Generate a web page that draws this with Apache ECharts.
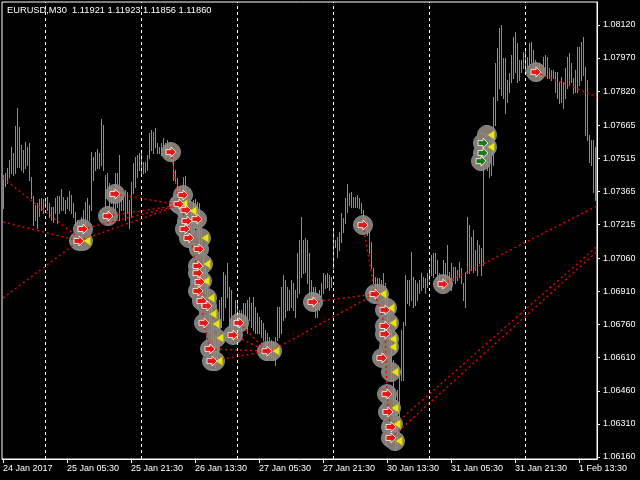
<!DOCTYPE html>
<html><head><meta charset="utf-8">
<script src="https://cdn.jsdelivr.net/npm/echarts@6/dist/echarts.min.js"></script>
<style>html,body{margin:0;padding:0;background:#000}#c{width:640px;height:480px}</style>
</head><body><div id="c"></div>
<script>
const headerText = 'EURUSD,M30  1.11921 1.11923 1.11856 1.11860';
const xTickIdx = [0,32,64,96,128,160,192,224,256,288];
const xTickLabels = ['24 Jan 2017','25 Jan 05:30','25 Jan 21:30','26 Jan 13:30','27 Jan 05:30','27 Jan 21:30','30 Jan 13:30','31 Jan 05:30','31 Jan 21:30','1 Feb 13:30'];
const yTicks = [1.06160,1.06310,1.06460,1.06610,1.06760,1.06910,1.07060,1.07215,1.07365,1.07515,1.07665,1.07820,1.07970,1.08120];
const separatorIdx = [21,69,117,165,213,261];

const highs = [
1.07439,1.07448,1.07471,1.07507,1.07566,1.07539,1.07661,1.07743,1.07657,1.07575,
1.07552,1.07589,1.07566,1.07584,1.07430,1.07344,1.07303,1.07312,1.07330,1.07335,
1.07330,1.07335,1.07339,1.07312,1.07294,1.07294,1.07335,1.07344,1.07344,1.07376,
1.07339,1.07326,1.07339,1.07366,1.07348,1.07312,1.07271,1.07235,1.07226,1.07249,
1.07280,1.07317,1.07335,1.07303,1.07543,1.07521,1.07543,1.07557,1.07539,1.07693,
1.07666,1.07439,1.07448,1.07403,1.07385,1.07380,1.07448,1.07448,1.07530,1.07362,
1.07348,1.07371,1.07362,1.07326,1.07407,1.07493,1.07521,1.07530,1.07539,1.07543,
1.07498,1.07498,1.07530,1.07630,1.07643,1.07634,1.07652,1.07584,1.07566,1.07584,
1.07607,1.07584,1.07598,1.07589,1.07575,1.07539,1.07462,1.07425,1.07385,1.07362,
1.07430,1.07435,1.07294,1.07249,1.07267,1.07326,1.07330,1.07317,1.07312,1.07235,
1.07099,1.07040,1.06994,1.06917,1.06849,1.06781,1.06713,1.06749,1.06872,1.06886,
1.06999,1.06985,1.07040,1.06931,1.06917,1.06781,1.06872,1.06858,1.06827,1.06827,
1.06858,1.06858,1.06872,1.06886,1.06858,1.06886,1.06840,1.06813,1.06795,1.06781,
1.06768,1.06736,1.06722,1.06704,1.06690,1.06677,1.06704,1.06840,1.06840,1.06931,
1.06985,1.06963,1.06931,1.06917,1.06963,1.06949,1.06917,1.07085,1.07144,1.07249,
1.07144,1.07153,1.07144,1.07085,1.06963,1.06931,1.06931,1.06904,1.06917,1.06949,
1.06994,1.06985,1.06994,1.06985,1.06976,1.07190,1.07144,1.07158,1.07180,1.07267,
1.07244,1.07335,1.07398,1.07357,1.07362,1.07339,1.07339,1.07348,1.07335,1.07312,
1.07280,1.07249,1.07226,1.07190,1.07135,1.07017,1.06976,1.06972,1.06972,1.06963,
1.06994,1.06949,1.06904,1.06827,1.06736,1.06600,1.06441,1.06464,1.06532,1.06736,
1.06772,1.06985,1.06963,1.06963,1.07090,1.06976,1.06963,1.06949,1.06963,1.06994,
1.06976,1.06972,1.06994,1.07017,1.07076,1.07085,1.07085,1.07053,1.06994,1.06963,
1.07053,1.07040,1.07121,1.06999,1.07040,1.07022,1.07022,1.07008,1.07044,1.07017,
1.06949,1.06999,1.07249,1.07212,1.07158,1.07190,1.07099,1.07144,1.07121,1.07108,
1.07493,1.07621,1.07584,1.07598,1.07630,1.07793,1.07947,1.08015,1.08106,1.08120,
1.07970,1.07970,1.07870,1.07902,1.07983,1.08065,1.08088,1.08038,1.07961,1.07961,
1.07997,1.08006,1.07974,1.08038,1.08042,1.08006,1.07961,1.07938,1.07947,1.07906,
1.07974,1.07983,1.07974,1.07924,1.07915,1.07915,1.07906,1.07906,1.07861,1.07884,
1.07861,1.07924,1.07974,1.07993,1.07947,1.07879,1.07915,1.08020,1.08020,1.08042,
1.08065,1.07929,1.07870,1.07621,1.07598,1.07598,1.07566
];
const lows = [
1.07289,1.07389,1.07403,1.07430,1.07448,1.07439,1.07448,1.07475,1.07475,1.07462,
1.07453,1.07471,1.07484,1.07416,1.07335,1.07212,1.07235,1.07199,1.07253,1.07280,
1.07267,1.07294,1.07280,1.07249,1.07235,1.07226,1.07267,1.07221,1.07267,1.07280,
1.07280,1.07267,1.07289,1.07280,1.07267,1.07249,1.07212,1.07176,1.07180,1.07108,
1.07190,1.07203,1.07235,1.07235,1.07280,1.07416,1.07462,1.07471,1.07471,1.07484,
1.07462,1.07294,1.07339,1.07221,1.07312,1.07294,1.07280,1.07294,1.07235,1.07280,
1.07280,1.07235,1.07267,1.07199,1.07249,1.07357,1.07385,1.07430,1.07462,1.07448,
1.07448,1.07453,1.07462,1.07516,1.07552,1.07539,1.07566,1.07539,1.07539,1.07530,
1.07562,1.07521,1.07530,1.07516,1.07507,1.07416,1.07403,1.07371,1.07249,1.07294,
1.07280,1.07267,1.07158,1.07144,1.07131,1.07176,1.07203,1.07158,1.07099,1.07085,
1.06963,1.06904,1.06886,1.06781,1.06690,1.06622,1.06568,1.06600,1.06677,1.06749,
1.06781,1.06840,1.06886,1.06749,1.06690,1.06690,1.06749,1.06722,1.06736,1.06736,
1.06749,1.06781,1.06722,1.06781,1.06749,1.06736,1.06722,1.06722,1.06722,1.06704,
1.06690,1.06659,1.06659,1.06613,1.06613,1.06600,1.06577,1.06690,1.06704,1.06722,
1.06781,1.06795,1.06827,1.06827,1.06840,1.06827,1.06795,1.06886,1.06904,1.06976,
1.06994,1.06999,1.06949,1.06904,1.06872,1.06858,1.06795,1.06795,1.06827,1.06886,
1.06904,1.06926,1.06931,1.06917,1.06931,1.07017,1.07112,1.07067,1.07099,1.07135,
1.07180,1.07221,1.07271,1.07303,1.07294,1.07294,1.07294,1.07294,1.07289,1.07267,
1.07235,1.07203,1.07167,1.07085,1.07017,1.06949,1.06917,1.06886,1.06917,1.06904,
1.06904,1.06840,1.06781,1.06668,1.06509,1.06327,1.06191,1.06205,1.06327,1.06509,
1.06509,1.06759,1.06858,1.06849,1.06872,1.06840,1.06849,1.06872,1.06904,1.06917,
1.06931,1.06904,1.06931,1.06963,1.06985,1.06976,1.06994,1.06963,1.06949,1.06917,
1.06931,1.06949,1.06976,1.06954,1.06917,1.06963,1.06949,1.06963,1.06976,1.06949,
1.06872,1.06840,1.06994,1.06994,1.07008,1.06999,1.07008,1.06985,1.07040,1.06985,
1.07031,1.07507,1.07462,1.07430,1.07439,1.07484,1.07666,1.07779,1.07834,1.07802,
1.07788,1.07720,1.07770,1.07816,1.07861,1.07879,1.07906,1.07861,1.07870,1.07906,
1.07924,1.07906,1.07915,1.07938,1.07952,1.07924,1.07902,1.07893,1.07870,1.07879,
1.07902,1.07893,1.07879,1.07879,1.07870,1.07879,1.07816,1.07788,1.07766,1.07770,
1.07743,1.07788,1.07834,1.07847,1.07861,1.07811,1.07816,1.07816,1.07847,1.07870,
1.07893,1.07621,1.07598,1.07498,1.07484,1.07362,1.07326
];

const redArrows = [[40,1.07194],[38,1.07140],[52.5,1.07253],[56,1.07353],[84,1.07543],[90,1.07348],[88,1.07307],[91.5,1.07280],[92,1.07230],[97,1.07239],[91,1.07194],[93,1.07153],[98,1.07103],[97.5,1.07026],[97.5,1.06994],[98.5,1.06954],[97.5,1.06913],[99.5,1.06867],[102,1.06845],[100.5,1.06768],[103.5,1.06650],[104.5,1.06595],[118,1.06768],[115,1.06713],[132,1.06640],[155,1.06863],[180,1.07212],[186,1.06899],[191,1.06827],[191,1.06754],[191,1.06718],[189.5,1.06609],[192,1.06445],[192.5,1.06364],[194,1.06296],[194,1.06246],[220,1.06944],[266.5,1.07906]];
const yellowMarks = [[40,1.07140],[88.5,1.07307],[93,1.07276],[99,1.07153],[100,1.07035],[99.5,1.06958],[102,1.06881],[103,1.06808],[104.5,1.06763],[106.5,1.06700],[106,1.06595],[134.5,1.06640],[188,1.06899],[192,1.06836],[193,1.06768],[193,1.06695],[193,1.06659],[194,1.06545],[194,1.06382],[195,1.06309],[196,1.06232],[242,1.07621],[242,1.07566]];
const greenArrows = [[240,1.07584],[240,1.07539],[239,1.07502]];

const dotLines = [
 [[0,1.07425],[38,1.07153]],
 [[0,1.07226],[38,1.07140]],
 [[0,1.06881],[38,1.07140]],
 [[38,1.07140],[88.5,1.07303]],
 [[40,1.07194],[88.5,1.07303]],
 [[56,1.07353],[88.5,1.07303]],
 [[52.5,1.07253],[88.5,1.07303]],
 [[84,1.07543],[88,1.07307]],
 [[88,1.07307],[92,1.07230]],
 [[92,1.07230],[97.5,1.06994]],
 [[97.5,1.06994],[100.5,1.06768]],
 [[100.5,1.06768],[104.5,1.06595]],
 [[103.5,1.06650],[132,1.06640]],
 [[104.5,1.06595],[132,1.06640]],
 [[118,1.06768],[132,1.06640]],
 [[115,1.06713],[132,1.06640]],
 [[134,1.06640],[186,1.06899]],
 [[155,1.06863],[186,1.06899]],
 [[180,1.07212],[186,1.06899]],
 [[186,1.06899],[191,1.06754]],
 [[191,1.06754],[192,1.06445]],
 [[192,1.06445],[194,1.06246]],
 [[194.5,1.06296],[297,1.07115]],
 [[194,1.06246],[297,1.07092]],
 [[220,1.06944],[297,1.07298]],
 [[266.5,1.07906],[297,1.07793]]
];

const FONT = 'Liberation Sans, Arial, sans-serif';
const arrowPath = 'path://M0,2.5L5,2.5L5,0L10,5L5,10L5,7.5L0,7.5Z';
const triPath = 'path://M0,4L7,0L7,8Z';

const chart = echarts.init(document.getElementById('c'), null, {renderer:'canvas'});
const barData = highs.map((h,i)=>[i, lows[i], h]);
const circleData = redArrows.concat(yellowMarks, greenArrows);

chart.setOption({
  backgroundColor:'#000',
  animation:false,
  title:{text:headerText, left:7, top:6, padding:0, textStyle:{color:'#fff', fontSize:9.3, fontWeight:'normal', fontFamily:FONT}},
  grid:{left:2, right:43, top:2, bottom:21, show:true, borderColor:'#fff', borderWidth:1, backgroundColor:'transparent'},
  xAxis:{type:'value', min:-0.5, max:297,
    axisLine:{show:true, onZero:false, lineStyle:{color:'#fff'}},
    splitLine:{show:false},
    axisTick:{show:true, customValues:xTickIdx, length:4, lineStyle:{color:'#fff'}},
    axisLabel:{customValues:xTickIdx, formatter:(v)=>{const k=xTickIdx.indexOf(Math.round(v));return k>=0?xTickLabels[k]:'';}, color:'#fff', fontSize:9, fontFamily:FONT, align:'left', margin:5, showMinLabel:true, showMaxLabel:true}
  },
  yAxis:{type:'value', position:'right', min:1.061505, max:1.08224,
    axisLine:{show:true, onZero:false, lineStyle:{color:'#fff'}},
    splitLine:{show:false},
    axisTick:{show:true, customValues:yTicks, length:3, lineStyle:{color:'#fff'}},
    axisLabel:{customValues:yTicks, formatter:(v)=>v.toFixed(5), color:'#fff', fontSize:9, fontFamily:FONT, margin:6}
  },
  series:[
    {type:'scatter', name:'circles', z:1, silent:true, data:circleData, symbol:'circle', symbolSize:19,
      itemStyle:{color:'#857a6d', borderColor:'#7c8fa3', borderWidth:1, opacity:1},
      markLine:{silent:true, symbol:'none', label:{show:false}, animation:false,
        lineStyle:{color:'#ffffff', width:1, type:[3,3]},
        data:separatorIdx.map(v=>({xAxis:v}))}
    },
    {type:'custom', name:'bars', z:2, silent:true, data:barData, encode:{x:0, y:[1,2]},
      renderItem:(params, api)=>{
        const hi = api.coord([api.value(0), api.value(2)]);
        const lo = api.coord([api.value(0), api.value(1)]);
        const px = Math.floor(hi[0] + 0.01) + 0.5;
        return {type:'line', shape:{x1:px, y1:Math.round(hi[1]), x2:px, y2:Math.round(lo[1])+1},
          style:{stroke:'#32cd32', lineWidth:1}};
      }
    },
    {type:'lines', name:'levels', coordinateSystem:'cartesian2d', z:3, silent:true,
      data:dotLines.map(c=>({coords:c})),
      lineStyle:{color:'#ff0000', width:1.3, type:[2,3], opacity:1}
    },
    {type:'scatter', name:'sell', z:4, silent:true, data:yellowMarks, symbol:triPath, symbolSize:[7,9], symbolOffset:[4,0],
      itemStyle:{color:'#ffff00', borderColor:'#b0a000', borderWidth:0.5}},
    {type:'scatter', name:'buyR', z:5, silent:true, data:redArrows, symbol:arrowPath, symbolSize:[10,10],
      itemStyle:{color:'#ff0000', borderColor:'#ffffff', borderWidth:1}},
    {type:'scatter', name:'buyG', z:5, silent:true, data:greenArrows, symbol:arrowPath, symbolSize:[10,10],
      itemStyle:{color:'#007a00', borderColor:'#ffffff', borderWidth:1}}
  ]
});
</script>
</body></html>
